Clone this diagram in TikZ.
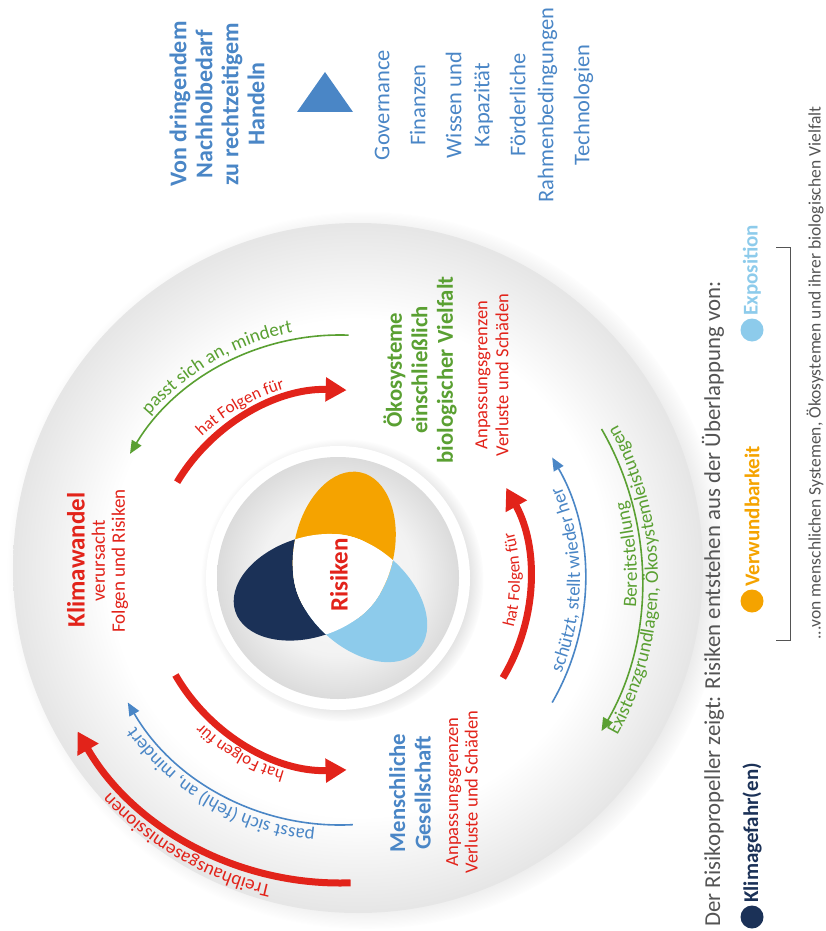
\documentclass[tikz,border=0pt]{standalone}
\usepackage{fontspec}
\setmainfont{Carlito}
\usepackage{tikz}
\usetikzlibrary{arrows.meta,positioning,calc,shadows,decorations.text}
\definecolor{KwRed}{HTML}{E2231A}
\definecolor{KwGreen}{HTML}{5AA032}
\definecolor{KwBlue}{HTML}{4A86C6}
\definecolor{KwNavy}{HTML}{1B3157}
\definecolor{KwOrange}{HTML}{F5A300}
\definecolor{KwSky}{HTML}{8DCBEB}
\definecolor{KwGrey}{gray}{0.33}
\pgfdeclareradialshading{discshade}{\pgfpointorigin}{color(0bp)=(white); color(18bp)=(white); color(25bp)=(black!10); color(50bp)=(black!10)}
\pgfdeclareradialshading{bowlshade}{\pgfpointorigin}{color(0bp)=(black!2); color(16bp)=(black!5); color(25bp)=(black!14); color(50bp)=(black!14)}
\newcommand\arcsmall{\fontsize{17}{17}\selectfont}
\newcommand\arcmid{\fontsize{19}{19}\selectfont}

\begin{document}
\begin{tikzpicture}[x=1pt,y=1pt,
  heading/.style={rotate=90,align=center,inner sep=0pt,font=\bfseries\fontsize{22.7}{25.5}\selectfont},
  sublabel/.style={rotate=90,align=center,inner sep=0pt,text=KwRed,font=\fontsize{18.5}{21}\selectfont},
  legtext/.style={rotate=90,anchor=west,inner sep=0pt,font=\bfseries\fontsize{21}{24}\selectfont},
  dot/.style={circle,inner sep=0pt,minimum size=23pt},
  bigarrow/.style={-{Triangle[length=21pt,width=23pt]},line width=7pt,draw=KwRed},
  thinarrow/.style={-{Triangle[length=13pt,width=11pt]},line width=1.6pt},
  arclabel/.style={decorate,decoration={text along path,text align=center,text={#1}}}]
  \useasboundingbox (0,0) rectangle (825,-931);
  \coordinate (O) at (340,-580);
  \coordinate (P) at (338,-578);
  \shade[shading=discshade,circular drop shadow={shadow scale=1.04,shadow xshift=8pt,shadow yshift=-2pt,opacity=.35}] (358,-568) circle (345);
  \fill[white,circular drop shadow={shadow scale=1.07,shadow xshift=4pt,shadow yshift=-2pt,opacity=.3}] (P) circle (132);
  \shade[shading=bowlshade] (P) circle (121);
  \begin{scope}[shift={(P)}]
    \foreach \ang/\col in {198/KwNavy,318/KwSky,78/KwOrange}
      \fill[\col,rotate=\ang] (30,0) ellipse [x radius=78,y radius=50];
    \begin{scope}
      \clip[rotate=78] (30,0) ellipse [x radius=78,y radius=50];
      \fill[white,rotate=198] (30,0) ellipse [x radius=78,y radius=50];
      \fill[white,rotate=318] (30,0) ellipse [x radius=78,y radius=50];
    \end{scope}
    \begin{scope}
      \clip[rotate=198] (30,0) ellipse [x radius=78,y radius=50];
      \fill[white,rotate=318] (30,0) ellipse [x radius=78,y radius=50];
    \end{scope}
  \end{scope}
  \node[heading,text=KwRed,font=\bfseries\fontsize{25}{28}\selectfont] (risiken) at (339,-575) {Risiken};

  \node[heading,text=KwRed,font=\bfseries\fontsize{25}{28}\selectfont] (klima) at (76,-560) {Klimawandel};
  \node[sublabel,font=\fontsize{19}{20}\selectfont] (klimasub) at (110,-561) {verursacht\\Folgen und Risiken};
  \node[heading,text=KwGreen] (oeko) at (420,-370) {Ökosysteme\\einschließlich\\biologischer Vielfalt};
  \node[sublabel] (oekosub) at (492,-375) {Anpassungsgrenzen\\Verluste und Schäden};
  \node[heading,text=KwBlue] (mensch) at (410,-793) {Menschliche\\Gesellschaft};
  \node[sublabel,font=\fontsize{18.5}{19.5}\selectfont] (menschsub) at (462,-792) {Anpassungsgrenzen\\Verluste und Schäden};

  \draw[bigarrow] ([shift={(149:190)}]O) arc[start angle=149,end angle=88,radius=190];
  \draw[thinarrow,KwGreen] ([shift={(88:245)}]O) arc[start angle=88,end angle=149,radius=245];
  \path[arclabel={|\color{KwRed}\arcsmall|hat Folgen für}] ([shift={(180:199)}]O) arc[start angle=180,end angle=60,radius=199];
  \path[arclabel={|\color{KwGreen}\arcmid|passt sich an, mindert}] ([shift={(180:252)}]O) arc[start angle=180,end angle=60,radius=252];

  \draw[bigarrow] ([shift={(210:190)}]O) arc[start angle=210,end angle=272,radius=190];
  \draw[thinarrow,KwBlue] ([shift={(273:245)}]O) arc[start angle=273,end angle=210,radius=245];
  \draw[bigarrow] ([shift={(272:303)}]O) arc[start angle=272,end angle=210,radius=303];
  \path[arclabel={|\color{KwRed}\arcsmall|hat Folgen für}] ([shift={(300:199)}]O) arc[start angle=300,end angle=180,radius=199];
  \path[arclabel={|\color{KwBlue}\arcmid|passt sich (fehl) an, mindert}] ([shift={(300:252)}]O) arc[start angle=300,end angle=180,radius=252];
  \path[arclabel={|\color{KwRed}\arcmid|Treibhausgasemissionen}] ([shift={(300:313)}]O) arc[start angle=300,end angle=180,radius=313];

  \draw[bigarrow] ([shift={(-31:190)}]O) arc[start angle=-31,end angle=29,radius=190];
  \draw[thinarrow,KwBlue] ([shift={(-30:245)}]O) arc[start angle=-30,end angle=30,radius=245];
  \draw[thinarrow,KwGreen] ([shift={(30:302)}]O) arc[start angle=30,end angle=-30,radius=302];
  \path[arclabel={|\color{KwRed}\arcsmall|hat Folgen für}] ([shift={(-60:180)}]O) arc[start angle=-60,end angle=60,radius=180];
  \path[arclabel={|\color{KwBlue}\arcmid|schützt, stellt wieder her}] ([shift={(-60:240)}]O) arc[start angle=-60,end angle=60,radius=240];
  \path[arclabel={|\color{KwGreen}\arcmid|Bereitstellung}] ([shift={(-55:297)}]O) arc[start angle=-55,end angle=65,radius=297];
  \path[arclabel={|\color{KwGreen}\arcmid|Existenzgrundlagen, Ökosystemleistungen}] ([shift={(-60:318)}]O) arc[start angle=-60,end angle=60,radius=318];

  \node[heading,text=KwBlue,font=\bfseries\fontsize{24}{26}\selectfont] (handeln) at (217,-104) {Von dringendem\\Nachholbedarf\\zu rechtzeitigem\\Handeln};
  \fill[KwBlue] (325,-72) -- (297,-112) -- (353,-112) -- cycle;
  \node[heading,text=KwBlue,font=\fontsize{22.5}{28}\selectfont] (hebel) at (484,-105) {Governance\\[8pt]Finanzen\\[8pt]Wissen und\\Kapazität\\[8pt]Förderliche\\Rahmenbedingungen\\[8pt]Technologien};

  \node[rotate=90,anchor=west,inner sep=0pt,text=KwGrey,font=\fontsize{22.8}{24}\selectfont] (legtitle) at (713,-927) {Der Risikopropeller zeigt: Risiken entstehen aus der Überlappung von:};
  \node[dot,fill=KwNavy] (navydot) at (752,-917) {};
  \node[legtext,text=KwNavy] (hazard) at (752,-903) {Klimagefahr(en)};
  \node[dot,fill=KwOrange] (orangedot) at (752,-601) {};
  \node[legtext,text=KwOrange] (vulner) at (752,-587) {Verwundbarkeit};
  \node[dot,fill=KwSky] (skydot) at (752,-330) {};
  \node[legtext,text=KwSky] (expo) at (752,-316) {Exposition};
  \draw[KwGrey,line width=1pt] (776,-640) -- (790,-640) -- (790,-247) -- (776,-247);
  \node[rotate=90,anchor=west,inner sep=0pt,text=KwGrey,font=\fontsize{17.5}{19}\selectfont] (legnote) at (815,-640) {...von menschlichen Systemen, Ökosystemen und ihrer biologischen Vielfalt};
\end{tikzpicture}
\end{document}
